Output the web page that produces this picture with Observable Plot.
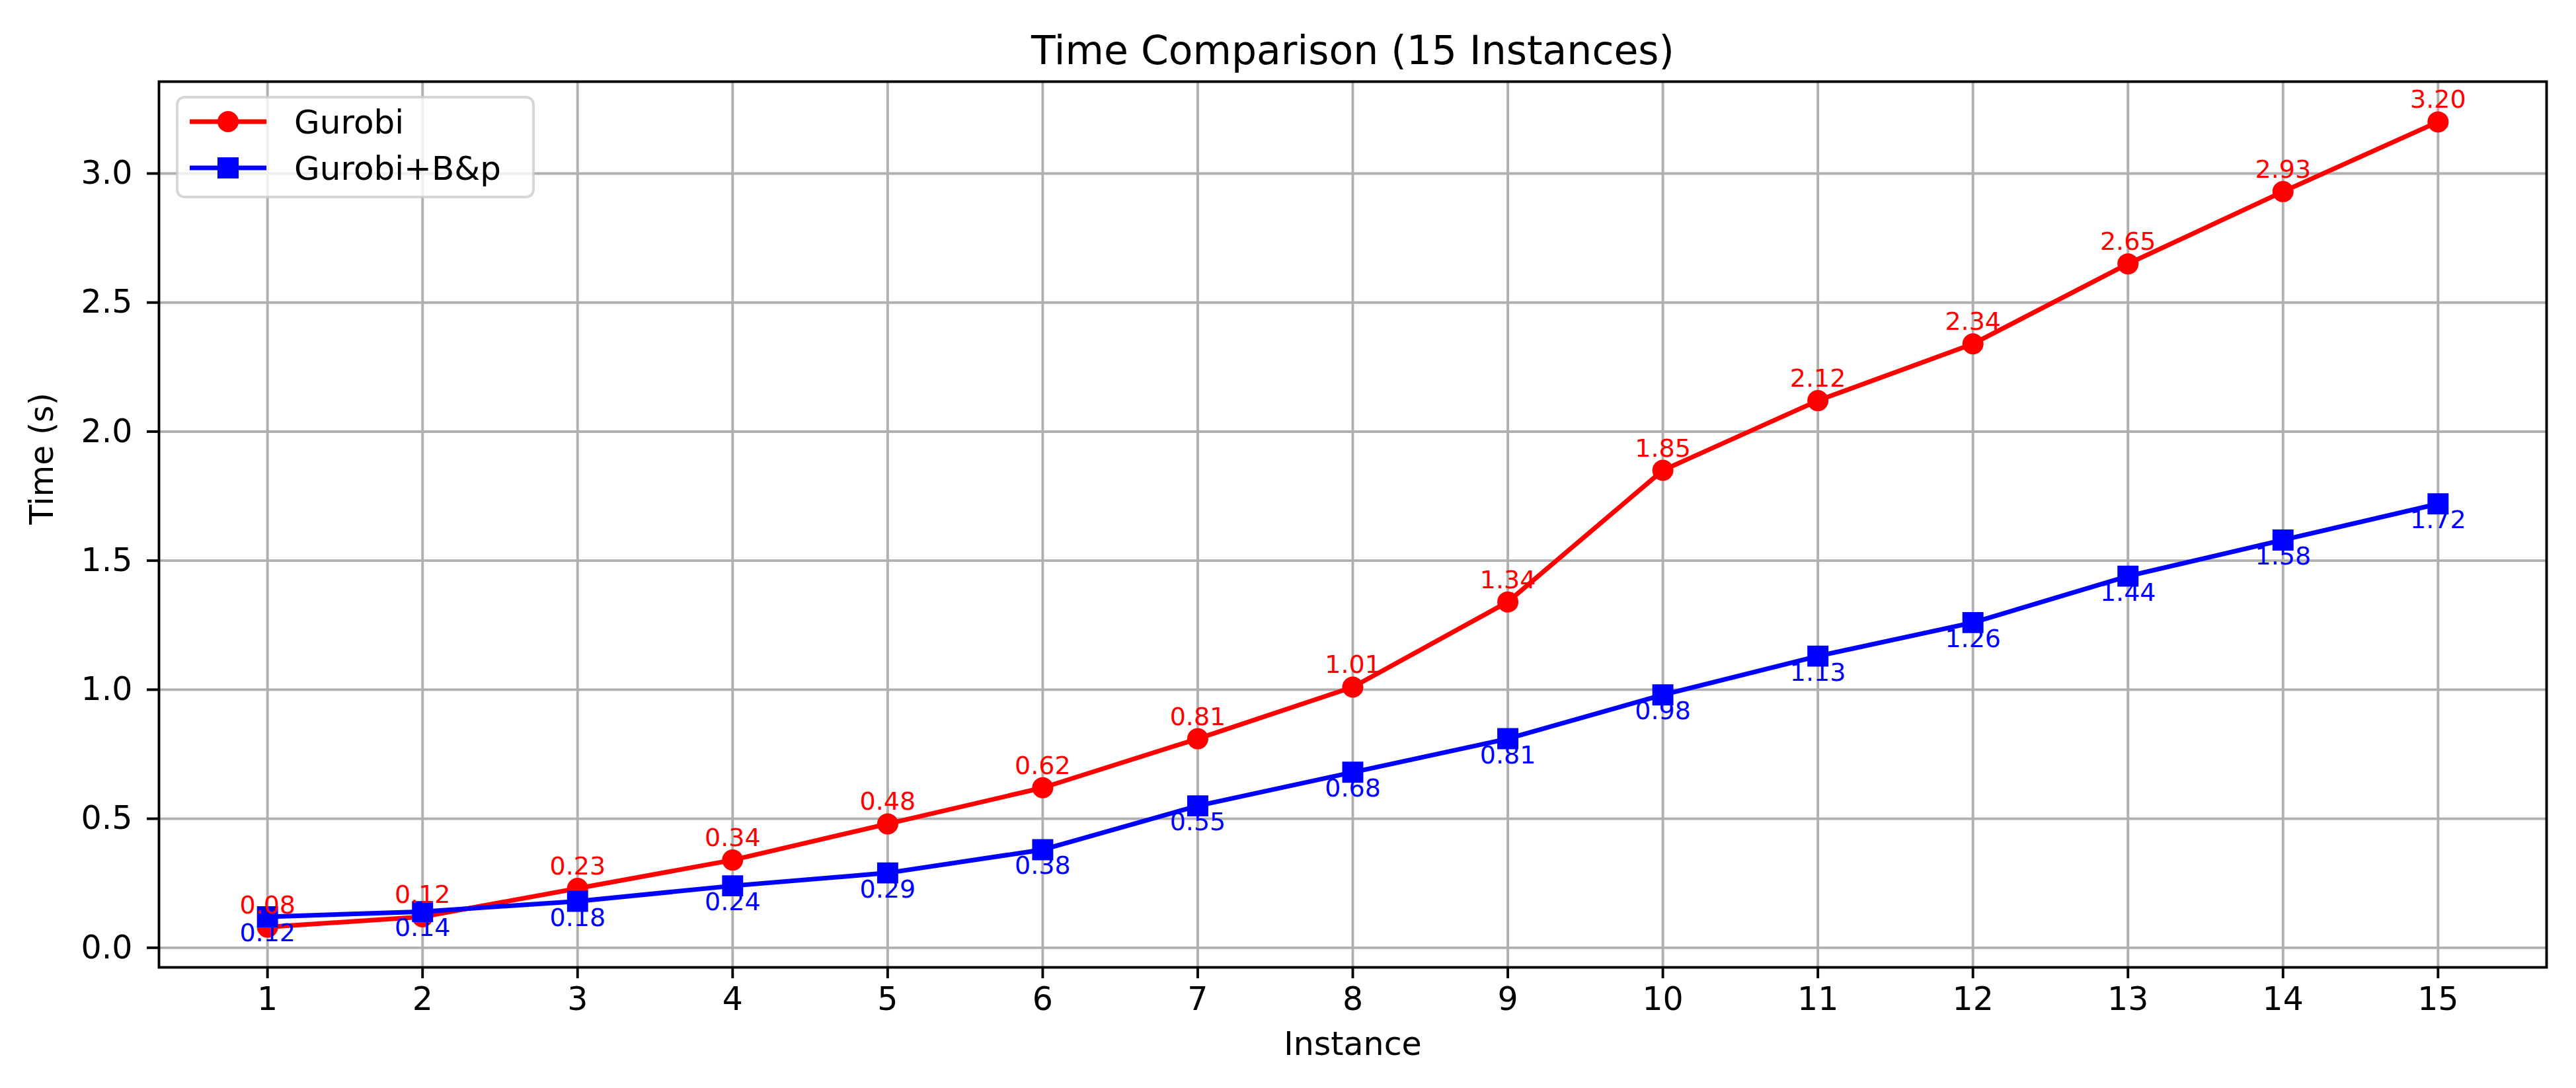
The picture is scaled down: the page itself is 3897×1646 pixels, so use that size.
<!DOCTYPE html>
<html>
<head>
<meta charset="utf-8">
<script src="https://cdn.jsdelivr.net/npm/d3@7"></script>
<script src="https://cdn.jsdelivr.net/npm/@observablehq/plot@0.6"></script>
<style>
  html, body { margin: 0; padding: 0; background: #ffffff; }
  #chart { width: 3897px; height: 1646px; }
</style>
</head>
<body>
<div id="chart"></div>
<script>
// ---- Data ----
const instances = [1, 2, 3, 4, 5, 6, 7, 8, 9, 10, 11, 12, 13, 14, 15];
const gurobi    = [0.08, 0.12, 0.23, 0.34, 0.48, 0.62, 0.81, 1.01, 1.34, 1.85, 2.12, 2.34, 2.65, 2.93, 3.20];
const gurobiBP  = [0.12, 0.14, 0.18, 0.24, 0.29, 0.38, 0.55, 0.68, 0.81, 0.98, 1.13, 1.26, 1.44, 1.58, 1.72];
const yTicks    = [0, 0.5, 1.0, 1.5, 2.0, 2.5, 3.0];
const seriesNames  = ["Gurobi", "Gurobi+B&p"];
const seriesColors = ["red", "blue"];
const titleText = "Time Comparison (15 Instances)";
const xLabelText = "Instance";
const yLabelText = "Time (s)";

// ---- Tables built from the arrays ----
const redRows  = instances.map((x, i) => ({x, y: gurobi[i]}));
const blueRows = instances.map((x, i) => ({x, y: gurobiBP[i]}));

// matplotlib-like 5% margins
const xMin = d3.min(instances), xMax = d3.max(instances);
const xPad = (xMax - xMin) * 0.05;
const allY = gurobi.concat(gurobiBP);
const yMin = d3.min(allY), yMax = d3.max(allY);
const yPad = (yMax - yMin) * 0.05;

const FONT = "DejaVu Sans";
const GRID = "#b0b0b0";

function legendMark(index, scales, values, dims) {
  const {marginLeft, marginTop} = dims;
  const g = d3.create("svg:g")
    .attr("transform", `translate(${marginLeft + 28},${marginTop + 24})`)
    .attr("font-family", FONT)
    .attr("text-anchor", "start");
  g.append("rect")
    .attr("width", 539).attr("height", 151).attr("rx", 11).attr("ry", 11)
    .attr("fill", "white").attr("fill-opacity", 0.8)
    .attr("stroke", "#cccccc").attr("stroke-opacity", 0.8).attr("stroke-width", 3.9);
  seriesNames.forEach((name, i) => {
    const cy = 37 + i * 70;
    const c = seriesColors[i];
    g.append("line")
      .attr("x1", 19).attr("x2", 135).attr("y1", cy).attr("y2", cy)
      .attr("stroke", c).attr("stroke-width", 7);
    if (i === 0) {
      g.append("circle").attr("cx", 77).attr("cy", cy).attr("r", 16).attr("fill", c);
    } else {
      g.append("rect").attr("x", 77 - 16).attr("y", cy - 16).attr("width", 32).attr("height", 32).attr("fill", c);
    }
    g.append("text")
      .attr("x", 177).attr("y", cy + 18)
      .attr("text-anchor", "start")
      .style("text-anchor", "start")
      .attr("font-size", 50).attr("fill", "black")
      .text(name);
  });
  return g.node();
}

const chart = Plot.plot({
  width: 3897,
  height: 1646,
  marginLeft: 240,
  marginRight: 45,
  marginTop: 123,
  marginBottom: 183,
  style: {fontFamily: FONT, fontSize: "48px", background: "white", color: "black", overflow: "visible"},
  x: {type: "linear", domain: [xMin - xPad, xMax + xPad]},
  y: {type: "linear", domain: [yMin - yPad, yMax + yPad]},
  marks: [
    Plot.gridX(instances, {stroke: GRID, strokeOpacity: 1, strokeWidth: 3.9}),
    Plot.gridY(yTicks, {stroke: GRID, strokeOpacity: 1, strokeWidth: 3.9}),

    Plot.line(redRows, {x: "x", y: "y", stroke: seriesColors[0], strokeWidth: 7}),
    Plot.dot(redRows, {x: "x", y: "y", r: 16, fill: seriesColors[0], symbol: "circle"}),
    Plot.line(blueRows, {x: "x", y: "y", stroke: seriesColors[1], strokeWidth: 7}),
    Plot.dot(blueRows, {x: "x", y: "y", r: 18, fill: seriesColors[1], symbol: "square"}),

    Plot.frame({stroke: "black", strokeWidth: 3.9}),

    Plot.axisX(instances, {
      tickSize: 17, tickPadding: 13, strokeWidth: 3.9, fontSize: 49,
      tickFormat: d => String(d), label: null
    }),
    Plot.axisY(yTicks, {
      tickSize: 18, tickPadding: 22, strokeWidth: 3.9, fontSize: 49,
      tickFormat: d3.format(".1f"), label: null
    }),

    // value annotations
    Plot.text(redRows, {
      x: "x", y: "y", text: d => d.y.toFixed(2), fill: seriesColors[0],
      fontSize: 38, lineAnchor: "bottom", dy: -21, textAnchor: "middle"
    }),
    Plot.text(blueRows, {
      x: "x", y: "y", text: d => d.y.toFixed(2), fill: seriesColors[1],
      fontSize: 38, lineAnchor: "bottom", dy: 37, textAnchor: "middle"
    }),

    // title and axis labels
    Plot.text([titleText], {
      frameAnchor: "top", text: d => d, lineAnchor: "bottom", dy: -27,
      fontSize: 60, fill: "black"
    }),
    Plot.text([xLabelText], {
      frameAnchor: "bottom", text: d => d, lineAnchor: "bottom", dy: 132,
      fontSize: 49, fill: "black"
    }),
    Plot.text([yLabelText], {
      frameAnchor: "left", text: d => d, rotate: -90, dx: 64 - 240,
      lineAnchor: "middle", fontSize: 49, fill: "black"
    }),

    legendMark
  ]
});

document.getElementById("chart").appendChild(chart);
</script>
</body>
</html>
